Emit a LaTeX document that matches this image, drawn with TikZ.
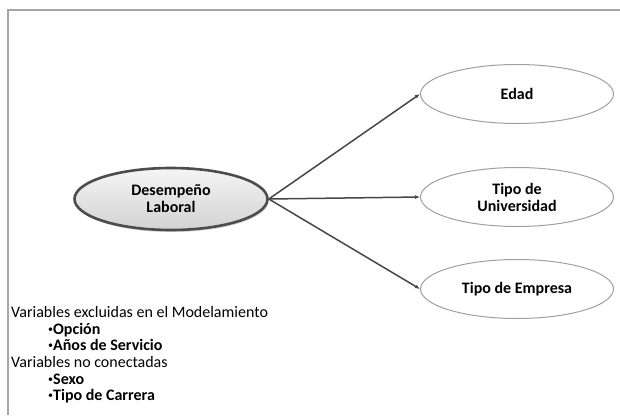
\documentclass[tikz,border=0pt]{standalone}
\usepackage{fontspec}
\setmainfont{Carlito}
\usetikzlibrary{shapes.geometric, shadows, arrows.meta}
\newcommand{\smallbul}{\raisebox{.25ex}{\fontsize{10}{10}\selectfont •}}

\begin{document}
\begin{tikzpicture}[x=1pt,y=-1pt,
  varnode/.style={draw=gray!75,line width=1pt,shape=ellipse,minimum width=193pt,minimum height=59pt,inner sep=0pt,align=center,font=\bfseries\fontsize{16}{17}\selectfont},
  mainnode/.style={varnode,draw=gray!60!black,line width=2.6pt,minimum height=62pt,top color=gray!8,bottom color=gray!35,drop shadow={opacity=.35,shadow xshift=1pt,shadow yshift=-2pt}},
  link/.style={draw=gray!55!black,line width=1.5pt,-{Latex[length=5pt,width=4pt]}},
  note/.style={anchor=base west,inner sep=0pt,font=\fontsize{16}{17}\selectfont}]
  \useasboundingbox (0,0) rectangle (620,415);
  \draw[gray!70,line width=1.5pt] (620,10) -- (8,10) -- (8,415);
  \path (171,199) node[mainnode] (desemp) {Desempeño\\Laboral}
  (517,94) node[varnode] (edad) {Edad}
  (517,197) node[varnode] (univ) {Tipo de\\Universidad}
  (517,289) node[varnode] (empresa) {Tipo de Empresa};
  \draw[link] (desemp.east) -- (edad.west);
  \draw[link] (desemp.east) -- (univ.west);
  \draw[link] (desemp.east) -- (empresa.west);
  \node[note] (excl) at (11,317) {Variables excluidas en el Modelamiento};
  \node[note] (opcion) at (48,334) {\smallbul\textbf{Opción}};
  \node[note] (anios) at (48,350.5) {\smallbul\textbf{Años de Servicio}};
  \node[note] (noconn) at (11,367) {Variables no conectadas};
  \node[note] (sexo) at (48,384) {\smallbul\textbf{Sexo}};
  \node[note] (carrera) at (48,400.5) {\smallbul\textbf{Tipo de Carrera}};
\end{tikzpicture}
\end{document}
